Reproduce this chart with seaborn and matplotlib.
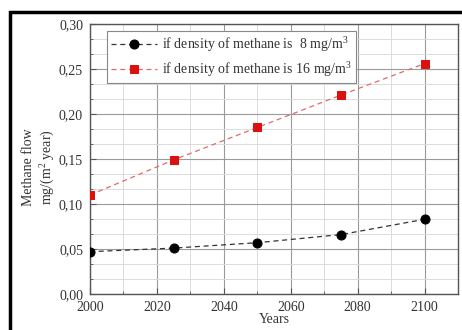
import matplotlib
matplotlib.use("Agg")
import matplotlib.pyplot as plt
import seaborn as sns
import pandas as pd
from matplotlib.ticker import MultipleLocator, AutoMinorLocator, FuncFormatter
from matplotlib.patches import Rectangle

years = [2000, 2025, 2050, 2075, 2100]
flow_8 = [0.047, 0.051, 0.057, 0.066, 0.083]
flow_16 = [0.110, 0.149, 0.185, 0.221, 0.256]
label_8 = "if density of methane is  8 mg/m$^3$"
label_16 = "if density of methane is 16 mg/m$^3$"

sns.set_style("white")
plt.rcParams['font.family'] = ['Liberation Serif', 'DejaVu Serif']
plt.rcParams['mathtext.fontset'] = 'custom'
plt.rcParams['mathtext.rm'] = 'Liberation Serif'
plt.rcParams['mathtext.it'] = 'Liberation Serif'

fig = plt.figure(figsize=(4.62, 3.30), dpi=100)
ax = fig.add_axes([90/462, 1-294/330, (458-90)/462, (294-24)/330])

df8 = pd.DataFrame({"year": years, "flow": flow_8})
df16 = pd.DataFrame({"year": years, "flow": flow_16})

sns.lineplot(data=df8, x="year", y="flow", ax=ax, color="#333333", lw=0.9,
             linestyle=(0, (4, 3)), marker="o", markersize=6.5,
             markerfacecolor="black", markeredgecolor="black", label=label_8, zorder=3)
sns.lineplot(data=df16, x="year", y="flow", ax=ax, color="#e06a6a", lw=0.9,
             linestyle=(0, (4, 3)), marker="s", markersize=5.5,
             markerfacecolor="#dd1010", markeredgecolor="#dd1010", label=label_16, zorder=3)

ax.set_xlim(2000, 2110)
ax.set_ylim(0, 0.30)
ax.xaxis.set_major_locator(MultipleLocator(20))
ax.xaxis.set_minor_locator(AutoMinorLocator(2))
ax.yaxis.set_major_locator(MultipleLocator(0.05))
ax.yaxis.set_minor_locator(AutoMinorLocator(3))
ax.xaxis.set_major_formatter(FuncFormatter(lambda v, p: f"{int(round(v))}" if v <= 2100 else ""))
ax.yaxis.set_major_formatter(FuncFormatter(lambda v, p: f"{v:.2f}".replace(".", ",")))

ax.grid(which="major", color="#9a9a9a", lw=0.8)
ax.grid(which="minor", color="#dcdcdc", lw=0.7)
ax.set_axisbelow(True)
for s in ax.spines.values():
    s.set_color("#555555")
    s.set_linewidth(1.0)
ax.tick_params(which="major", direction="in", length=4, width=0.8, color="#555555",
               labelsize=10, labelcolor="#333333", left=True, bottom=True, pad=5)
ax.tick_params(which="minor", direction="in", length=2, width=0.6, color="#555555",
               left=True, bottom=True)

ax.set_xlabel("Years", fontsize=10, color="#333333", labelpad=-1)
ax.set_ylabel("Methane flow\nmg/(m$^2$ year)", fontsize=10, color="#333333", labelpad=0,
              linespacing=1.25)
ax.yaxis.set_label_coords(-0.09, 0.47)

leg = ax.legend(loc="upper left", bbox_to_anchor=(14/368, 0.985), fontsize=10,
                frameon=True, fancybox=False, edgecolor="#888888", framealpha=1,
                handlelength=3.3, borderpad=0.3, labelspacing=0.45, handletextpad=0.4,
                borderaxespad=0.2)
leg.get_frame().set_linewidth(0.8)
for t in leg.get_texts():
    t.set_color("#333333")

fig.patches.append(Rectangle((10/462, -0.05), 1.1, 1 - 12/330 + 0.05, transform=fig.transFigure,
                             fill=False, edgecolor="black", linewidth=2.5, zorder=10))

fig.savefig("out.png", dpi=100)
